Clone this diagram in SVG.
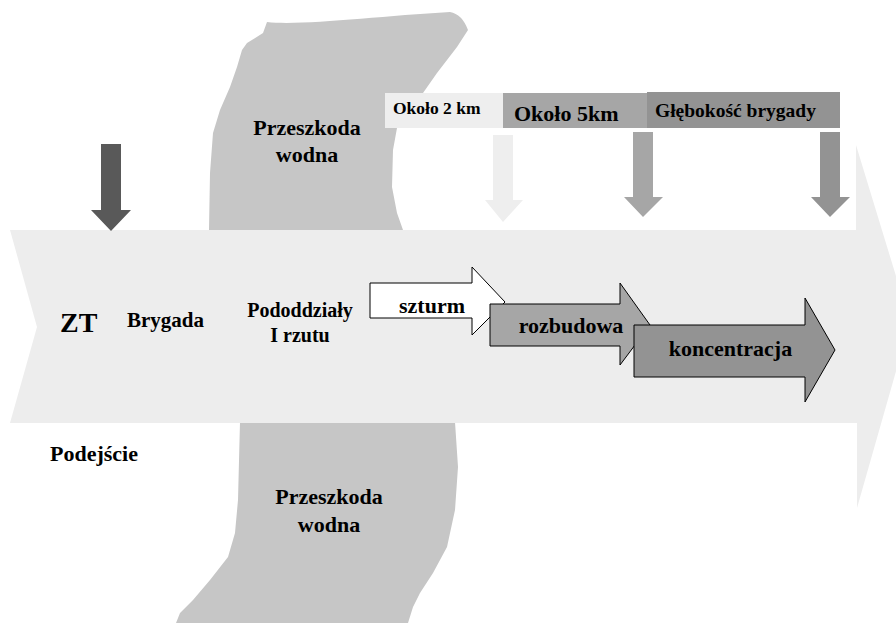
<svg xmlns="http://www.w3.org/2000/svg" width="896" height="623" viewBox="0 0 896 623" font-family="'Liberation Serif', 'Times New Roman', Times, serif" font-weight="bold">
<style>
text{fill:#000}
.mid{text-anchor:middle}
.blk{stroke:#000;stroke-width:1;stroke-linejoin:miter}
</style>
<rect width="896" height="623" fill="#fff"/>
<g id="obstacle">
<path fill="#c6c6c6" d="M267,22 C300,26 380,16 450,12 Q462,14 468,30 L457,47 L437,73 L423,93 L410,110 L397,128 L393,150 L392,187 L397,213 L403,230 L455,422 L458,467 L455,510 L447,547 L433,573 L420,593 L413,607 L408,623 L176,623 L180,613 L193,600 L210,580 L228,557 L235,533 L238,500 L240,422 L209,230 L210,173 L213,133 L220,110 L230,87 L237,67 L242,50 L247,43 L263,33 Z"/>
</g>
<g id="main-arrow">
<path fill="#ededed" d="M10,230 L856,230 L856,145 L910,322 L857,508 L857,423 L10,423 L37,327 Z"/>
</g>
<g id="obstacle-labels">
<text class="mid" x="307" y="135" font-size="22">Przeszkoda</text>
<text class="mid" x="307" y="162" font-size="22">wodna</text>
<text class="mid" x="329" y="504" font-size="22">Przeszkoda</text>
<text class="mid" x="329" y="532" font-size="22">wodna</text>
</g>
<g id="box-2km">
<rect x="385" y="93" width="118" height="35" fill="#eeeeee"/>
<text x="393" y="114" font-size="17.5">Około 2 km</text>
</g>
<g id="box-5km">
<rect x="503" y="93" width="144" height="35" fill="#a6a6a6"/>
<text x="514" y="121" font-size="22">Około 5km</text>
</g>
<g id="box-depth">
<rect x="647" y="92" width="193" height="36" fill="#939393"/>
<text x="655" y="117" font-size="19.5">Głębokość brygady</text>
</g>
<g id="connectors">
<path fill="#595959" d="M101,144 L121,144 L121,210 L131,210 L111,231 L91,210 L101,210 Z"/>
<path fill="#eeeeee" d="M493,135 L513,135 L513,200 L523,200 L503,222 L485,200 L493,200 Z"/>
<path fill="#a6a6a6" d="M633,132 L653,132 L653,197 L663,197 L643,217 L624,197 L633,197 Z"/>
<path fill="#939393" d="M820,132 L840,132 L840,197 L850,197 L830,217 L811,197 L820,197 Z"/>
</g>
<g id="labels">
<text x="60" y="332" font-size="28">ZT</text>
<text class="mid" x="165.5" y="327" font-size="21">Brygada</text>
<text class="mid" x="300" y="317" font-size="20">Pododdziały</text>
<text class="mid" x="300" y="342" font-size="20">I rzutu</text>
<text x="50" y="461" font-size="22">Podejście</text>
</g>
<g id="szturm">
<path class="blk" fill="#ffffff" d="M370,283 L472,283 L472,267 L505,302 L472,335 L472,318 L370,318 Z"/>
<text class="mid" x="432" y="313" font-size="22">szturm</text>
</g>
<g id="rozbudowa">
<path class="blk" fill="#a6a6a6" d="M490,304 L620,304 L620,283 L650,325 L620,365 L620,346 L490,346 Z"/>
<text class="mid" x="571" y="333" font-size="22">rozbudowa</text>
</g>
<g id="koncentracja">
<path class="blk" fill="#939393" d="M634,325 L805,325 L805,298 L835,350 L805,402 L805,377 L634,377 Z"/>
<text class="mid" x="730.5" y="356" font-size="22">koncentracja</text>
</g>
</svg>
